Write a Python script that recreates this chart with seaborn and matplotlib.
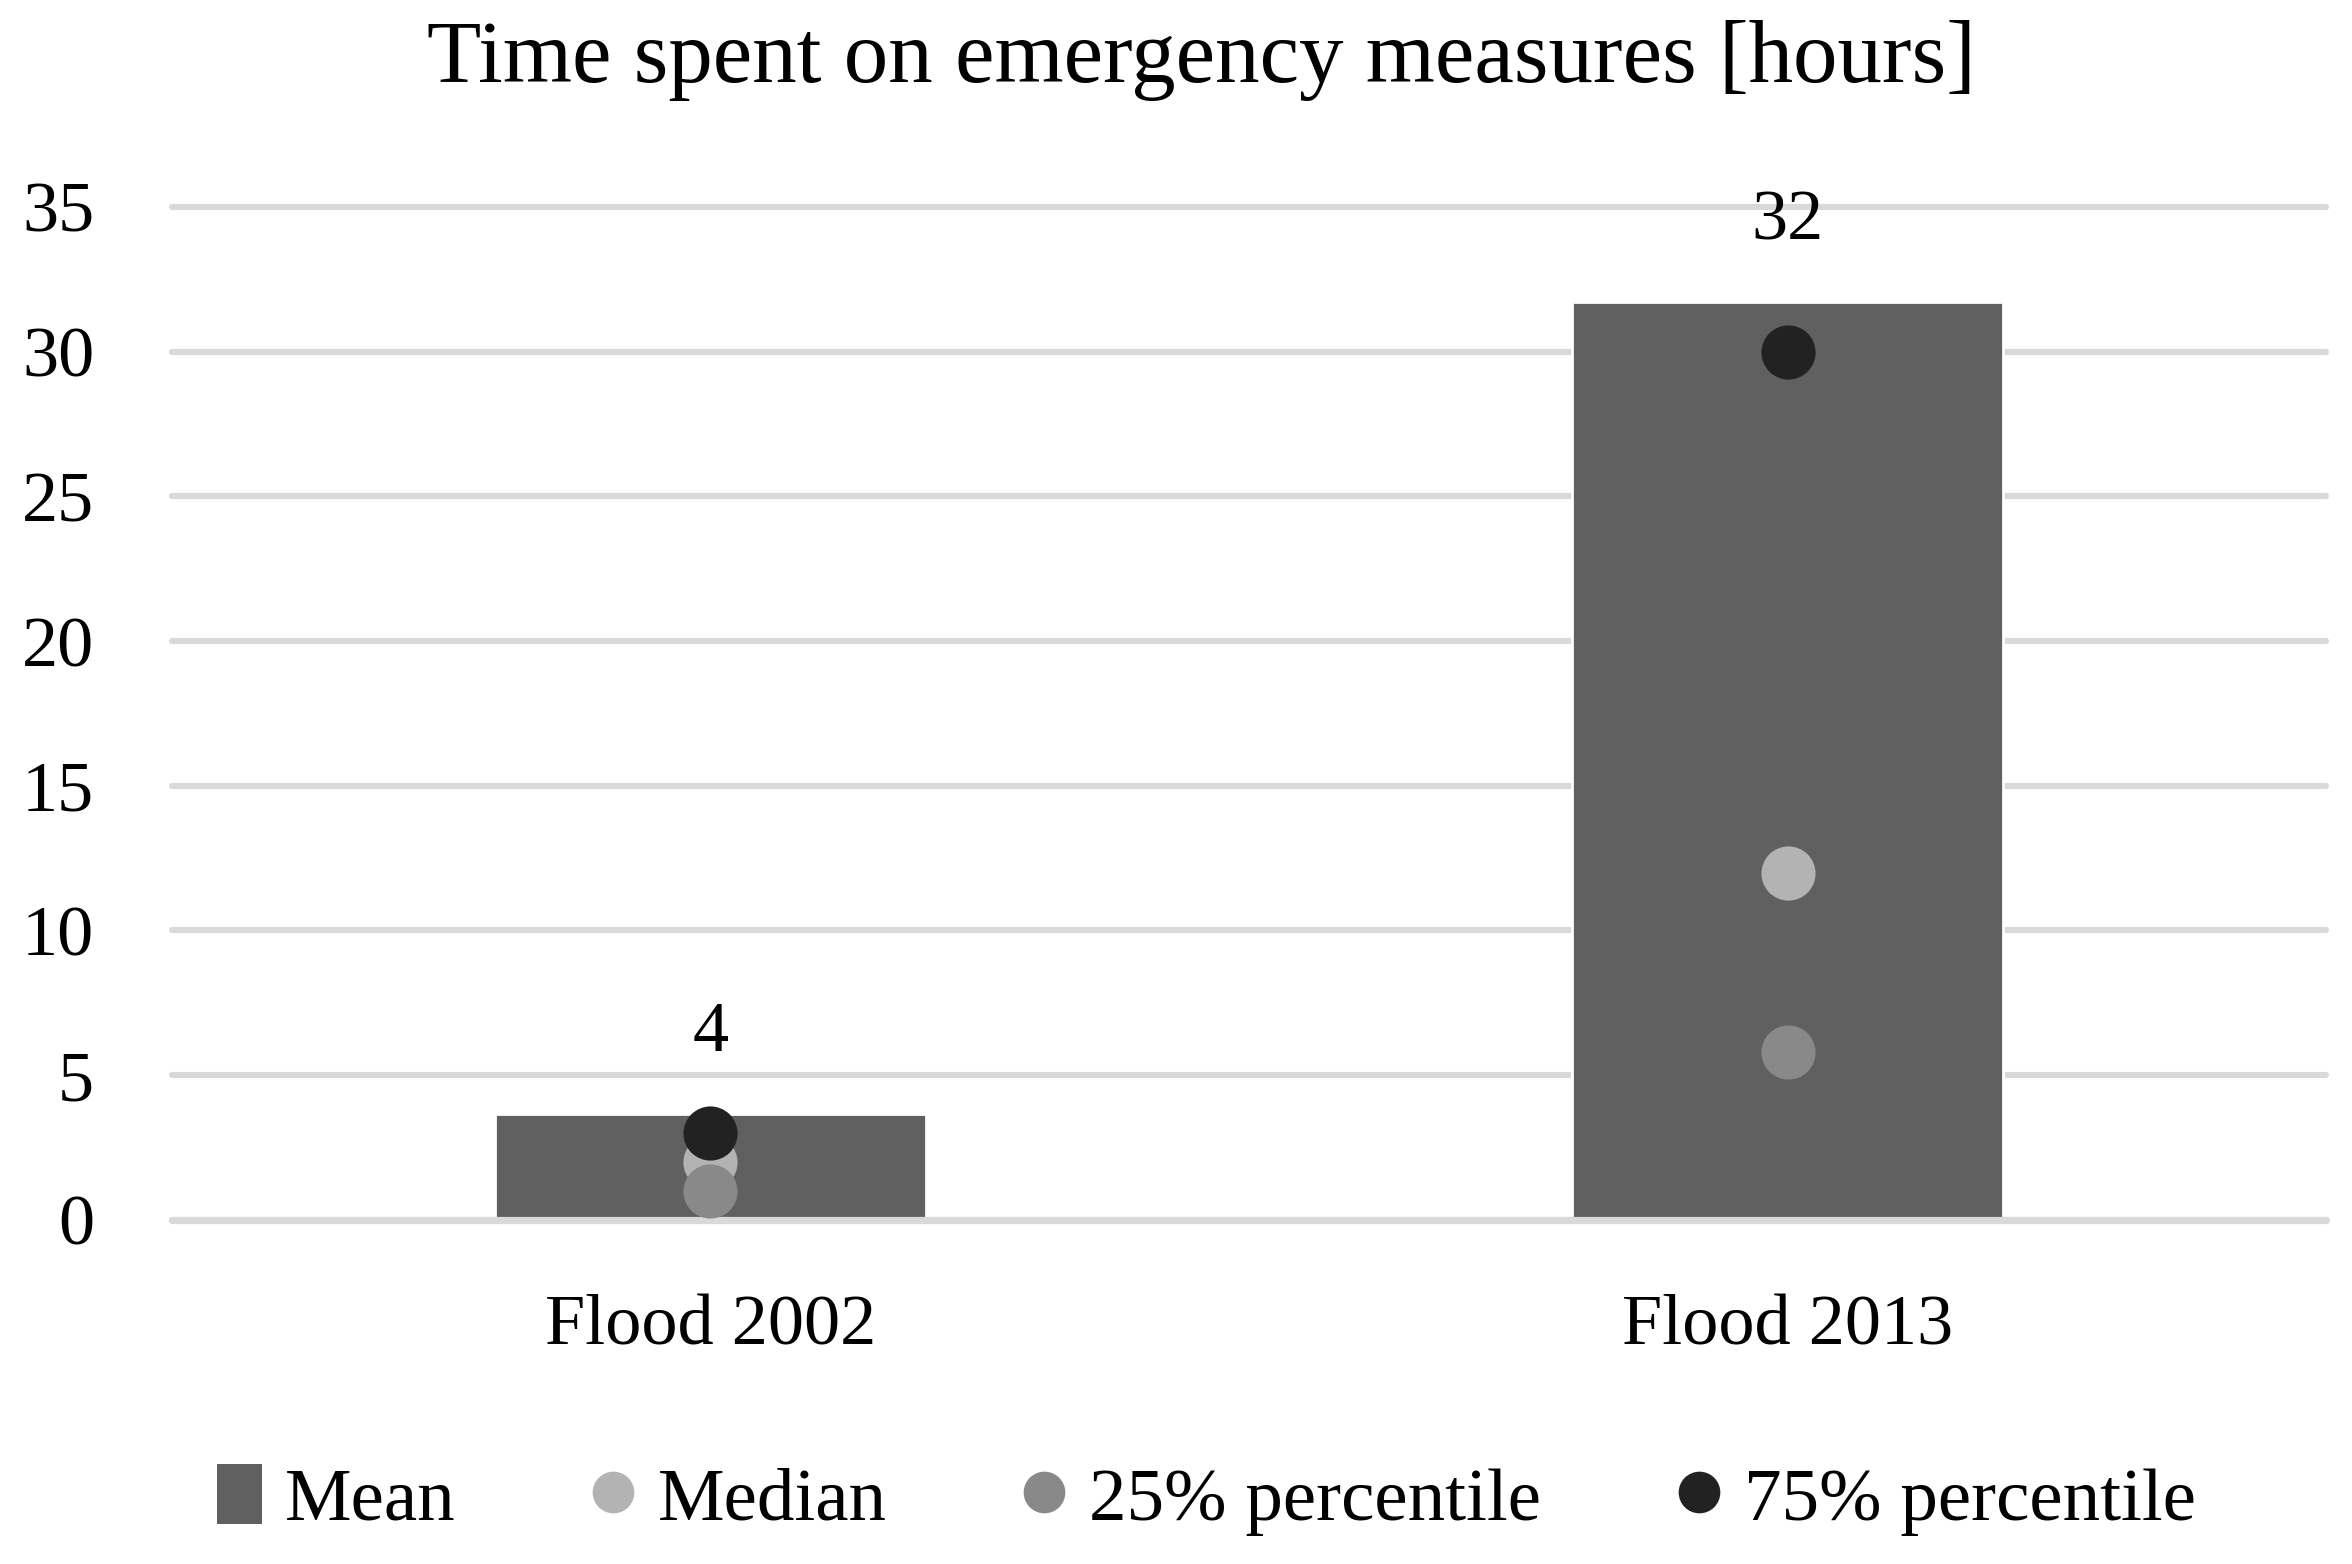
import matplotlib
matplotlib.use("Agg")
import matplotlib.pyplot as plt
import seaborn as sns
import pandas as pd
from matplotlib.patches import Patch
from matplotlib.lines import Line2D

# Chart data
categories = ["Flood 2002", "Flood 2013"]
mean_vals = [3.65, 31.7]
median_vals = [2.0, 12.0]
p25_vals = [1.0, 5.8]
p75_vals = [3.0, 30.0]
mean_labels = ["4", "32"]
y_ticks = [0, 5, 10, 15, 20, 25, 30, 35]

series_names = ["Median", "25% percentile", "75% percentile"]
series_vals = [median_vals, p25_vals, p75_vals]

bar_color = "#606060"
point_colors = ["#b3b3b3", "#898989", "#222222"]
grid_color = "#d9d9d9"

sns.set_style("white")
plt.rcParams["font.family"] = ["Liberation Serif", "DejaVu Serif"]
plt.rcParams["text.color"] = "black"
plt.rcParams["xtick.color"] = "black"
plt.rcParams["ytick.color"] = "black"

df = pd.DataFrame({"flood": categories, "mean": mean_vals})

fig = plt.figure(figsize=(11.76, 7.82), dpi=200)
ax = fig.add_axes([0.0731, 0.22, 0.9159, 0.6477])

sns.barplot(data=df, x="flood", y="mean", color=bar_color, width=0.4,
            saturation=1, ax=ax, zorder=2)

for name, vals, col in zip(series_names, series_vals, point_colors):
    pts = pd.DataFrame({"flood": categories, "value": vals})
    sns.stripplot(data=pts, x="flood", y="value", color=col, jitter=False,
                  size=19.5, linewidth=0, ax=ax, zorder=4)

# value labels above the mean bars
for i, (v, lab) in enumerate(zip(mean_vals, mean_labels)):
    ax.annotate(lab, (i, v), xytext=(0, 29), textcoords="offset points",
                ha="center", va="center", fontsize=26, color="black")

ax.set_xlim(-0.5, 1.5)
ax.set_ylim(0, 35)
ax.set_yticks(y_ticks)
ax.yaxis.grid(True, color=grid_color, linewidth=2.2)
ax.set_axisbelow(True)
for gl in ax.get_ygridlines():
    gl.set_clip_on(False)
ax.axhline(0, color=grid_color, linewidth=2.6, zorder=3, clip_on=False)
for s in ax.spines.values():
    s.set_visible(False)

ax.tick_params(axis="x", length=0, pad=27, labelsize=26)
ax.tick_params(axis="y", length=0, pad=28, labelsize=26)
ax.set_xlabel("")
ax.set_ylabel("")

fig.text(0.511, 0.9616, "Time spent on emergency measures [hours]",
         ha="center", va="center", fontsize=32)

handles = [Patch(facecolor=bar_color, edgecolor="none", label="Mean")]
for name, col in zip(series_names, point_colors):
    handles.append(Line2D([], [], linestyle="none", marker="o", markersize=15,
                          markerfacecolor=col, markeredgewidth=0, label=name))
fig.legend(handles=handles, loc="center", bbox_to_anchor=(0.513, 0.041),
           ncol=4, frameon=False, fontsize=27, handlelength=0.6,
           handleheight=0.85, handletextpad=0.3, columnspacing=1.8)

fig.savefig("out.png", dpi=200)
